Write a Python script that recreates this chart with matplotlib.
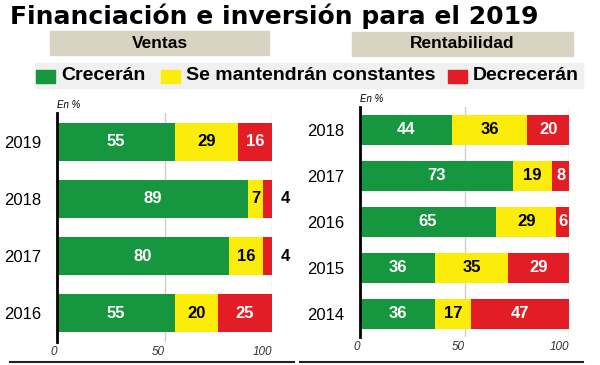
import matplotlib.pyplot as plt
from matplotlib.patches import Rectangle
from matplotlib.lines import Line2D

plt.rcParams['font.family'] = ['Liberation Sans', 'DejaVu Sans']

title = "Financiación e inversión para el 2019"
series_names = ["Crecerán", "Se mantendrán constantes", "Decrecerán"]
colors = ["#15963f", "#fbec0a", "#e21d25"]
text_colors = ["white", "black", "white"]

ventas_years = ["2019", "2018", "2017", "2016"]
ventas_crecen = [55, 89, 80, 55]
ventas_mantienen = [29, 7, 16, 20]
ventas_decrecen = [16, 4, 4, 25]

rent_years = ["2018", "2017", "2016", "2015", "2014"]
rent_crecen = [44, 73, 65, 36, 36]
rent_mantienen = [36, 19, 29, 35, 17]
rent_decrecen = [20, 8, 6, 29, 47]

ticks = [0, 50, 100]

fig = plt.figure(figsize=(6, 3.65), dpi=100)
W, H = 600, 365


def px(x, y, w, h):
    # pixel box (top-left origin) -> figure fraction
    return [x / W, 1 - (y + h) / H, w / W, h / H]


def draw_panel(rect, years, series, bar_h, outside_small):
    ax = fig.add_axes(rect)
    n = len(years)
    left = [0] * n
    for vals, c, tc in zip(series, colors, text_colors):
        ax.barh(range(n), vals, left=left, height=bar_h, color=c, zorder=2)
        for i, v in enumerate(vals):
            if v <= 4 and outside_small:
                ax.text(104, i, str(v), ha='left', va='center', fontsize=12,
                        fontweight='bold', color='black', clip_on=False)
            else:
                ax.text(left[i] + v / 2, i, str(v), ha='center', va='center',
                        fontsize=12, fontweight='bold', color=tc)
            left[i] += v
    ax.set_xlim(0, 100)
    ax.set_ylim(n - 0.5, -0.5)
    ax.set_yticks(range(n))
    ax.set_yticklabels(years, fontsize=12)
    ax.set_xticks(ticks)
    ax.set_xticklabels([str(t) for t in ticks], fontsize=8.5, style='italic',
                       color='#333333', ha='right')
    ax.tick_params(axis='x', length=0, pad=3)
    ax.tick_params(axis='y', length=0, pad=11)
    for s in ['top', 'right', 'bottom']:
        ax.spines[s].set_visible(False)
    ax.spines['left'].set_linewidth(2)
    ax.grid(axis='x', color='#cccccc', linewidth=1, zorder=0)
    ax.set_axisbelow(True)
    ax.text(0.0, 1.012, "En %", transform=ax.transAxes, fontsize=7,
            style='italic', ha='left', va='bottom')
    return ax


draw_panel(px(57, 113, 215, 229), ventas_years,
           [ventas_crecen, ventas_mantienen, ventas_decrecen], 0.66, True)
draw_panel(px(360, 107, 209, 230), rent_years,
           [rent_crecen, rent_mantienen, rent_decrecen], 0.65, False)

# title
fig.text(10 / W, 1 - 16 / H, title, fontsize=18, fontweight='heavy',
         ha='left', va='center', family='DejaVu Sans')

# panel headers
for (x, y, w, h), label in [((50, 31, 219, 24), "Ventas"),
                            ((352, 32, 221, 24), "Rentabilidad")]:
    fig.patches.append(Rectangle((x / W, 1 - (y + h) / H), w / W, h / H,
                                 transform=fig.transFigure, color='#d9d4c1'))
    fig.text((x + w / 2) / W, 1 - (y + h / 2) / H, label, fontsize=12.5,
             fontweight='bold', ha='center', va='center')

# legend band
fig.patches.append(Rectangle((35 / W, 1 - 88 / H), 548 / W, 25 / H,
                             transform=fig.transFigure, color='#f0f0f0'))
legend_x = [36, 161, 448]
for x, name, c in zip(legend_x, series_names, colors):
    fig.patches.append(Rectangle((x / W, 1 - 83 / H), 19 / W, 13 / H,
                                 transform=fig.transFigure, color=c))
    fig.text((x + 25) / W, 1 - 76 / H, name, fontsize=14,
             fontweight='bold', ha='left', va='center')

# bottom rules
fig.lines.append(Line2D([10 / W, 294 / W], [1 - 362 / H] * 2,
                        transform=fig.transFigure, color='#222222', lw=1.5))
fig.lines.append(Line2D([300 / W, 583 / W], [1 - 362 / H] * 2,
                        transform=fig.transFigure, color='#222222', lw=1.5))

fig.savefig("out.png", dpi=100)
